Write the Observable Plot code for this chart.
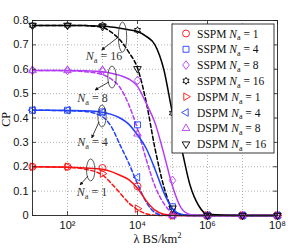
<!DOCTYPE html>
<html><head><meta charset="utf-8">
<script src="https://cdn.jsdelivr.net/npm/d3@7"></script>
<script src="https://cdn.jsdelivr.net/npm/@observablehq/plot@0.6"></script>
<style>body{margin:0;background:#fff}</style>
</head><body><div id="chart"></div>
<script>
// ---- data (exponents of λ in BS/km²) ----
const curveExps = [1, 2, 2.5, 3, 3.25, 3.5, 3.75, 4, 4.25, 4.5, 4.75, 5, 5.25, 5.5, 5.75, 6, 7, 8];
const sspm1  = [0.2, 0.198, 0.195, 0.19, 0.18, 0.165, 0.147, 0.112, 0.06, 0.022, 0.005, 0.001, 0, 0, 0, 0, 0, 0];
const dspm1  = [0.2, 0.198, 0.19, 0.166, 0.132, 0.092, 0.052, 0.024, 0.007, 0.001, 0, 0, 0, 0, 0, 0, 0, 0];
const sspm4  = [0.432, 0.431, 0.43, 0.424, 0.415, 0.4, 0.375, 0.33, 0.275, 0.19, 0.095, 0.028, 0.005, 0, 0, 0, 0, 0];
const dspm4  = [0.432, 0.43, 0.427, 0.405, 0.365, 0.29, 0.215, 0.13, 0.055, 0.012, 0.001, 0, 0, 0, 0, 0, 0, 0];
const sspm8  = [0.595, 0.595, 0.594, 0.59, 0.584, 0.575, 0.56, 0.53, 0.46, 0.38, 0.255, 0.12, 0.03, 0.004, 0, 0, 0, 0];
const dspm8  = [0.595, 0.594, 0.59, 0.578, 0.56, 0.525, 0.455, 0.355, 0.23, 0.12, 0.05, 0.01, 0.001, 0, 0, 0, 0, 0];
const sspm16 = [0.78, 0.78, 0.779, 0.777, 0.773, 0.768, 0.762, 0.755, 0.735, 0.7, 0.6, 0.42, 0.28, 0.125, 0.04, 0.005, 0, 0];
const dspm16 = [0.78, 0.78, 0.779, 0.772, 0.752, 0.72, 0.67, 0.605, 0.465, 0.275, 0.12, 0.025, 0.003, 0, 0, 0, 0, 0];

const markerExps = [1, 2, 3, 4, 5, 6, 7, 8];
const mSspm1  = [0.2, 0.2, 0.195, 0.12, 0, 0, 0, 0];
const mDspm1  = [0.2, 0.2, 0.172, 0.028, 0, 0, 0, 0];
const mSspm4  = [0.432, 0.432, 0.425, 0.372, 0.036, 0, 0, 0];
const mDspm4  = [0.432, 0.432, 0.424, 0.157, 0, 0, 0, 0];
const mSspm8  = [0.595, 0.595, 0.595, 0.554, 0.144, 0, 0, 0];
const mDspm8  = [0.595, 0.595, 0.595, 0.335, 0, 0, 0, 0];
const mSspm16 = [0.78, 0.78, 0.78, 0.76, 0.42, 0, 0, 0];
const mDspm16 = [0.78, 0.78, 0.775, 0.602, 0.03, 0, 0, 0];

const seriesNames = ["SSPM N_a = 1", "SSPM N_a = 4", "SSPM N_a = 8", "SSPM N_a = 16",
                     "DSPM N_a = 1", "DSPM N_a = 4", "DSPM N_a = 8", "DSPM N_a = 16"];
const xLabelTicks = [1e2, 1e4, 1e6, 1e8];
const xGridTicks = [1e2, 1e3, 1e4, 1e5, 1e6, 1e7];
const yTicks = [0, 0.1, 0.2, 0.3, 0.4, 0.5, 0.6, 0.7, 0.8];

// annotations (positions as λ exponent / CP)
const annLabels = ["16", "8", "4", "1"];
const annEllipseExp = [3.586, 3.286, 3.0, 2.677];
const annEllipseCp  = [0.730, 0.566, 0.406, 0.185];
const annEllipseRy  = [15, 11, 11, 11];
const annArrowFromExp = [3.43, 3.2, 2.914, 2.6];
const annArrowFromCp  = [0.726, 0.546, 0.382, 0.16];
const annArrowToExp   = [2.99, 2.8, 2.706, 2.371];
const annArrowToCp    = [0.677, 0.513, 0.316, 0.123];
const annTextExp = [3.057, 2.729, 2.729, 2.714];
const annTextCp  = [0.652, 0.48, 0.3, 0.094];

// ---- styles ----
const RED = "#ff1010", BLUE = "#2040ff", MAG = "#b43cf8", BLK = "#000000";
const mk = (f) => ({draw(ctx, size) { f(ctx, Math.sqrt(size / Math.PI)); }});
const poly = (ctx, pts) => { ctx.moveTo(pts[0][0], pts[0][1]); for (const p of pts.slice(1)) ctx.lineTo(p[0], p[1]); ctx.closePath(); };
const symCircle = mk((c, r) => { c.moveTo(r, 0); c.arc(0, 0, r, 0, 2 * Math.PI); });
const symSquare = mk((c, r) => { const s = r * 0.85; poly(c, [[-s,-s],[s,-s],[s,s],[-s,s]]); });
const symDiamond = mk((c, r) => { const w = r * 0.95, h = r * 1.25; poly(c, [[0,-h],[w,0],[0,h],[-w,0]]); });
const symHex = mk((c, R) => { const pts = []; for (let k = 0; k < 12; k++) { const a = -Math.PI/2 + k * Math.PI/6; const rr = k % 2 ? R / Math.sqrt(3) : R; pts.push([rr*Math.cos(a), rr*Math.sin(a)]); } poly(c, pts); });
const tri = (ang) => mk((c, r) => { const R = r * 1.25; const pts = [0, 1, 2].map(k => { const a = ang + k * 2 * Math.PI / 3; return [R*Math.cos(a), R*Math.sin(a)]; }); poly(c, pts); });
const symRight = tri(0), symLeft = tri(Math.PI), symUp = tri(-Math.PI/2), symDown = tri(Math.PI/2);

const series = [
  {name: seriesNames[0], color: RED,  dash: false, vals: sspm1,  mvals: mSspm1,  sym: symCircle},
  {name: seriesNames[1], color: BLUE, dash: false, vals: sspm4,  mvals: mSspm4,  sym: symSquare},
  {name: seriesNames[2], color: MAG,  dash: false, vals: sspm8,  mvals: mSspm8,  sym: symDiamond},
  {name: seriesNames[3], color: BLK,  dash: false, vals: sspm16, mvals: mSspm16, sym: symHex},
  {name: seriesNames[4], color: RED,  dash: true,  vals: dspm1,  mvals: mDspm1,  sym: symRight},
  {name: seriesNames[5], color: BLUE, dash: true,  vals: dspm4,  mvals: mDspm4,  sym: symLeft},
  {name: seriesNames[6], color: MAG,  dash: true,  vals: dspm8,  mvals: mDspm8,  sym: symUp},
  {name: seriesNames[7], color: BLK,  dash: true,  vals: dspm16, mvals: mDspm16, sym: symDown}
];

const W = 291, H = 250, ML = 32, MR = 14, MT = 20, MB = 35;
const FW = W - ML - MR, FH = H - MT - MB;

const lineMarks = [], dotMarks = [];
for (const s of series) {
  const rows = curveExps.map((e, i) => ({lam: 10 ** e, cp: s.vals[i]}));
  const mrows = markerExps.map((e, i) => ({lam: 10 ** e, cp: s.mvals[i]}));
  lineMarks.push(Plot.line(rows, {x: "lam", y: "cp", stroke: s.color, strokeWidth: 1.5,
    strokeDasharray: s.dash ? "4,2.5" : null, curve: "monotone-x"}));
  dotMarks.push(Plot.dot(mrows, {x: "lam", y: "cp", symbol: s.sym, r: 3.5, stroke: s.color, strokeWidth: 0.9, fill: "none"}));
}

const gridStyle = {stroke: "#a0a0a0", strokeOpacity: 1, strokeDasharray: "1,2", strokeWidth: 0.8};
const fig = Plot.plot({
  width: W, height: H, marginLeft: ML, marginRight: MR, marginTop: MT, marginBottom: MB,
  style: {fontFamily: "'Liberation Sans', Arial, sans-serif", fontSize: "11px", background: "white", color: "#111"},
  x: {type: "log", domain: [10, 1e8]},
  y: {domain: [0, 0.8]},
  marks: [
    Plot.gridX(xGridTicks, gridStyle),
    Plot.gridY(yTicks.slice(1, -1), gridStyle),
    ...lineMarks.filter((_, i) => series[i].dash),
    ...lineMarks.filter((_, i) => !series[i].dash),
    ...dotMarks,
    Plot.tickX(xLabelTicks, {x: d => d, insetTop: FH - 4, stroke: "#222", strokeWidth: 0.8}),
    Plot.tickX(xLabelTicks, {x: d => d, insetBottom: FH - 4, stroke: "#222", strokeWidth: 0.8}),
    Plot.tickY(yTicks, {y: d => d, insetRight: FW - 4, stroke: "#222", strokeWidth: 0.8}),
    Plot.tickY(yTicks, {y: d => d, insetLeft: FW - 4, stroke: "#222", strokeWidth: 0.8}),
    Plot.frame({stroke: "#222", strokeWidth: 0.9}),
    Plot.axisX({ticks: xLabelTicks, tickSize: 0, tickPadding: 6, label: null,
      tickFormat: d => "10" + {2: "²", 4: "⁴", 6: "⁶", 8: "⁸"}[Math.round(Math.log10(d))]}),
    Plot.axisY({ticks: yTicks, tickSize: 0, tickPadding: 4, label: null,
      tickFormat: d => d === 0 ? "0" : d.toFixed(1)})
  ]
});
document.getElementById("chart").appendChild(fig);

// ---- overlays: annotations, axis titles, legend ----
const svg = d3.select(fig.tagName.toLowerCase() === "svg" ? fig : fig.querySelector("svg"));
const xs = fig.scale && fig.scale("x") && fig.scale("x").apply ? (v) => fig.scale("x").apply(v) : d3.scaleLog([10, 1e8], [ML, W - MR]);
const ys = fig.scale && fig.scale("y") && fig.scale("y").apply ? (v) => fig.scale("y").apply(v) : d3.scaleLinear([0, 0.8], [H - MB, MT]);
const serif = "'Liberation Serif', 'Times New Roman', serif";

const defs = svg.append("defs");
defs.append("marker").attr("id", "ah").attr("viewBox", "0 0 10 10").attr("refX", 9).attr("refY", 5)
  .attr("markerWidth", 5).attr("markerHeight", 4.5).attr("orient", "auto")
  .append("path").attr("d", "M0,0L10,5L0,10z").attr("fill", "#111");

function nLabel(sel, prefix, val, fs) {
  if (prefix) sel.append("tspan").text(prefix + " ");
  sel.append("tspan").attr("font-style", "italic").text("N");
  sel.append("tspan").attr("font-size", (fs * 0.7) + "px").attr("dy", fs * 0.25).text("a");
  sel.append("tspan").attr("dy", -fs * 0.25).text(" = " + val);
}

const ann = svg.append("g");
annLabels.forEach((lab, i) => {
  ann.append("ellipse").attr("cx", xs(10 ** annEllipseExp[i])).attr("cy", ys(annEllipseCp[i]))
    .attr("rx", 4.2).attr("ry", annEllipseRy[i]).attr("fill", "none").attr("stroke", "#333").attr("stroke-width", 0.8);
  ann.append("line").attr("x1", xs(10 ** annArrowFromExp[i])).attr("y1", ys(annArrowFromCp[i]))
    .attr("x2", xs(10 ** annArrowToExp[i])).attr("y2", ys(annArrowToCp[i]))
    .attr("stroke", "#111").attr("stroke-width", 0.8).attr("marker-end", "url(#ah)");
  const t = ann.append("text").attr("x", xs(10 ** annTextExp[i])).attr("y", ys(annTextCp[i]) + 4)
    .attr("text-anchor", "middle").attr("font-family", serif).attr("font-size", "12px").attr("fill", "#333");
  nLabel(t, null, lab, 12);
});

svg.append("text").attr("transform", `translate(10,${MT + FH / 2 + 2}) rotate(-90)`).attr("text-anchor", "middle")
  .attr("font-family", serif).attr("font-size", "12px").attr("fill", "#111").text("CP");
const xl = svg.append("text").attr("x", ML + FW / 2 + 3).attr("y", 243).attr("text-anchor", "middle")
  .attr("font-family", serif).attr("font-size", "12.5px").attr("fill", "#111");
xl.append("tspan").text("λ BS/km");
xl.append("tspan").attr("font-size", "8.5px").attr("dy", -5).text("2");

const lg = svg.append("g");
lg.append("rect").attr("x", 172).attr("y", 24).attr("width", 102).attr("height", 129)
  .attr("fill", "white").attr("stroke", "#222").attr("stroke-width", 0.9);
series.forEach((s, i) => {
  const yy = 33.5 + i * 15.8;
  lg.append("path").attr("transform", `translate(186,${yy})`)
    .attr("d", d3.symbol().type(s.sym).size(Math.PI * 3.5 * 3.5)())
    .attr("fill", "none").attr("stroke", s.color).attr("stroke-width", 0.9);
  const parts = s.name.split(" ");
  const t = lg.append("text").attr("x", 197).attr("y", yy + 4).attr("text-anchor", "start")
    .attr("font-family", serif).attr("font-size", "11.5px").attr("fill", "#111");
  nLabel(t, parts[0], parts[parts.length - 1], 11.5);
});
</script>
</body></html>
